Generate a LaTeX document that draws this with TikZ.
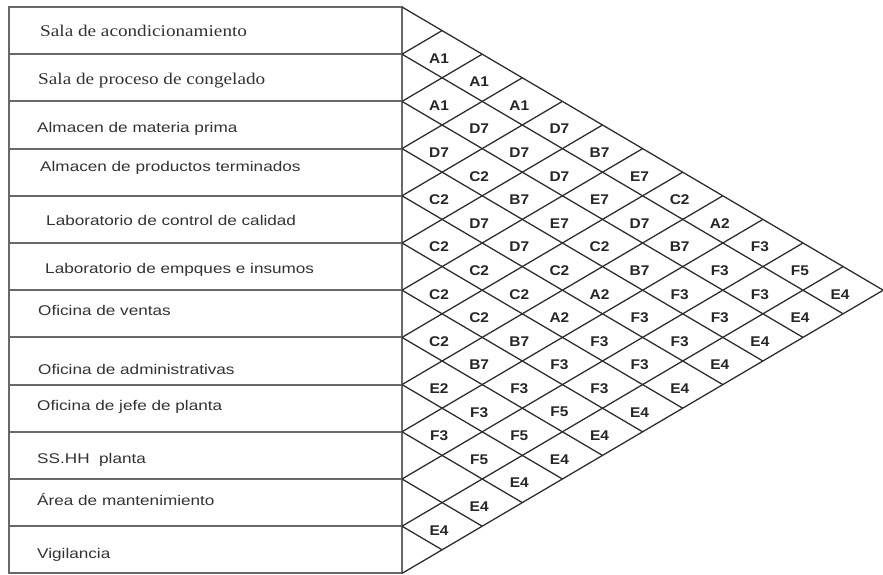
\documentclass[tikz,border=0pt]{standalone}
\usepackage{fontspec}
\usepackage{tikz}
\newfontfamily\roomserifface{Liberation Serif}[FakeStretch=1.17]
\newfontfamily\roomsansface{Liberation Sans}[FakeStretch=1.22]
\newfontfamily\relface{Liberation Sans}[FakeStretch=1.1]
\definecolor{tablegray}{RGB}{105,105,105}
\definecolor{gridgray}{RGB}{45,45,45}
\definecolor{labelgray}{RGB}{50,50,50}
\tikzset{
  tabline/.style={draw=tablegray,line width=1.6pt},
  gridline/.style={draw=gridgray,line width=1.1pt},
  roomserif/.style={anchor=base west,inner sep=0pt,text=labelgray,
                    font=\roomserifface\fontsize{14}{16}\selectfont},
  roomsans/.style={anchor=base west,inner sep=0pt,text=labelgray,
                   font=\roomsansface\fontsize{12}{14}\selectfont},
  relcode/.style={inner sep=0pt,text=black!85,
                  font=\relface\bfseries\fontsize{12}{14}\selectfont},
}

\begin{document}
\begin{tikzpicture}[x=0.3mm,y=-0.3mm]
  \useasboundingbox (0,0) rectangle (883,575);

  % room table
  \draw[tabline] (9,7) rectangle (402,573.4);
  \foreach \k in {1,...,11}
    \draw[tabline] (9,{7+47.2*\k}) -- (402,{7+47.2*\k});

  \node[roomserif] (r0) at (40,36.7) {Sala de acondicionamiento};
  \node[roomserif] (r1) at (38,85) {Sala de proceso de congelado};
  \node[roomsans] (r2) at (37,133) {Almacen de materia prima};
  \node[roomsans] (r3) at (40,172) {Almacen de productos terminados};
  \node[roomsans] (r4) at (46,225.7) {Laboratorio de control de calidad};
  \node[roomsans] (r5) at (45,273) {Laboratorio de empques e insumos};
  \node[roomsans] (r6) at (38,315) {Oficina de ventas};
  \node[roomsans] (r7) at (38,374) {Oficina de administrativas};
  \node[roomsans] (r8) at (37,410) {Oficina de jefe de planta};
  \node[roomsans] (r9) at (37,463) {SS.HH\ \ planta};
  \node[roomsans] (r10) at (37,505) {Área de mantenimiento};
  \node[roomsans] (r11) at (37,558) {Vigilancia};

  % relationship triangle
  \foreach \k in {0,...,11}
    \draw[gridline] (402,{7+47.2*\k}) -- ++({(12-\k)*40.1},{(12-\k)*23.6});
  \foreach \k in {1,...,12}
    \draw[gridline] (402,{7+47.2*\k}) -- ++({\k*40.1},{-\k*23.6});

  \foreach \codes [count=\i from 0] in {
      {A1,A1,A1,D7,B7,E7,C2,A2,F3,F5,E4},
      {A1,D7,D7,D7,E7,D7,B7,F3,F3,E4},
      {D7,C2,B7,E7,C2,B7,F3,F3,E4},
      {C2,D7,D7,C2,A2,F3,F3,E4},
      {C2,C2,C2,A2,F3,F3,E4},
      {C2,C2,B7,F3,F3,E4},
      {C2,B7,F3,F5,E4},
      {E2,F3,F5,E4},
      {F3,F5,E4},
      {{},E4},
      {E4}}
    \foreach \rel [count=\d] in \codes {
      \ifx\rel\empty\else
        \node[relcode] (c\i-\d) at ({402+40.1*\d-3},{7+47.2*\i+23.6*(\d+1)+4}) {\rel};
      \fi
    };
\end{tikzpicture}
\end{document}
